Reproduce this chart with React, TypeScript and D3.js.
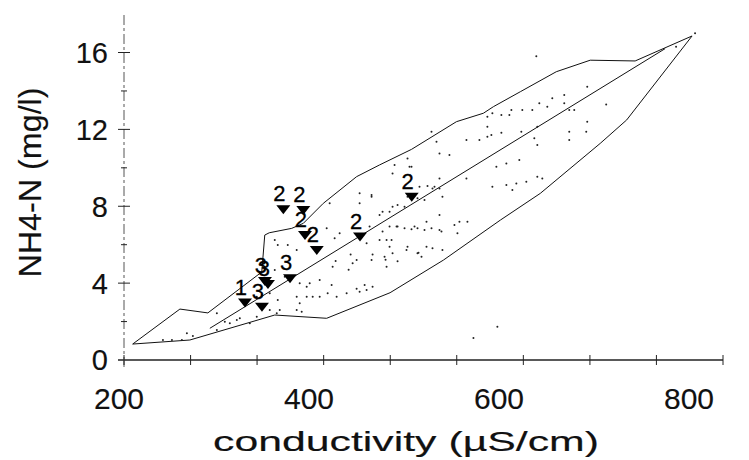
import React from 'react';
import * as d3 from 'd3';

// envelope of the measurements (conductivity µS/cm, NH4-N mg/l)
const upperEnvelope: [number, number][] = [
  [208.7, 0.83], [256, 2.65], [284, 2.45], [338, 4.58], [341, 6.5], [345.5, 6.62],
  [368, 6.85], [379.6, 7.11], [399.6, 8.15], [433, 9.54], [456, 10.15], [488, 10.96],
  [533, 12.4], [560, 12.84], [570, 13.18], [597, 13.96], [633, 15.0], [667, 15.6],
  [712, 15.56], [769, 16.86],
];

const lowerEnvelope: [number, number][] = [
  [208.7, 0.83], [266, 1.04], [351, 2.34], [403, 2.17], [466.5, 3.5], [520, 5.2],
  [577, 7.28], [617, 8.67], [677, 11.27], [703.5, 12.49], [769, 16.86],
];

const regressionLine: [number, number][] = [[286, 1.65], [742, 16.2]];

// labelled samples (filled triangles)
const markerX = [359.6, 379.6, 381.3, 393.1, 436.4, 488.2, 341.2, 344.2, 366.3, 321.2, 338.2];
const markerY = [7.84, 7.8, 6.5, 5.72, 6.42, 8.5, 4.11, 3.95, 4.25, 2.99, 2.77];
const markerLabels = ['2', '2', '2', '2', '2', '2', '3', '3', '3', '1', '3'];

// small dots of the data cloud
const scatterPoints: [number, number][] = [
  [508, 11.88], [513, 11.36], [484, 10.49], [516, 10.75], [526, 10.67], [543, 11.45],
  [556, 11.45], [564, 11.62], [568, 11.71], [578, 11.83], [564, 12.14], [564, 12.66],
  [569, 12.84], [578, 12.75], [586, 12.75], [588, 13.01], [599, 13.01], [609, 13.01],
  [616, 13.36], [624, 13.18], [629, 13.62], [641, 13.79], [641, 13.36], [646, 13.01],
  [651, 13.01], [646, 11.88], [646, 11.45], [663, 11.88], [664, 12.4], [664, 14.22],
  [614, 12.14], [611, 11.54], [614, 11.19], [598, 11.88], [573, 10.06], [583, 10.23],
  [596, 10.41], [569, 9.02], [583, 9.11], [593, 9.19], [603, 9.28], [614, 9.54],
  [619, 9.45], [543, 9.45], [516, 8.93], [519, 8.5], [501, 8.32], [504, 9.05],
  [496, 9.02], [511, 9.02], [516, 7.54], [456, 7.54], [466, 7.72], [474, 8.06],
  [448, 8.5], [436, 8.67], [471, 10.15], [486, 10.06], [484, 8.5], [406, 8.15],
  [469, 9.71], [516, 9.45], [509, 8.93], [589, 8.85], [459, 7.72], [503, 7.2],
  [536, 7.2], [544, 7.2], [531, 7.02], [473, 6.94], [481, 6.85], [488, 6.8],
  [494, 6.85], [501, 6.76], [508, 6.85], [518, 6.68], [534, 6.59], [463, 6.24],
  [468, 6.24], [484, 5.89], [503, 5.89], [509, 5.81], [519, 5.72], [494, 5.55],
  [498, 5.37], [516, 6.76], [373, 3.29], [383, 3.29], [389, 3.29], [396, 3.29],
  [404, 3.47], [413, 3.29], [423, 3.47], [436, 3.55], [443, 3.64], [441, 3.9],
  [449, 3.81], [376, 3.99], [396, 4.16], [408, 3.9], [409, 4.85], [429, 5.03],
  [433, 5.2], [448, 5.2], [461, 5.37], [469, 5.55], [483, 5.72], [466, 5.89],
  [443, 6.07], [456, 6.24], [354, 5.98], [364, 5.98], [373, 5.72], [351, 6.24],
  [351, 4.68], [361, 4.33], [403, 6.85], [411, 6.33], [416, 6.59], [446, 6.94],
  [459, 6.68], [466, 6.94], [469, 7.98], [474, 6.94], [491, 6.94], [481, 7.98],
  [494, 8.41], [448, 8.58], [436, 8.15], [488, 10.06], [463, 4.85], [346, 2.6],
  [353, 2.43], [338, 3.38], [333, 2.25], [316, 2.17], [326, 1.91], [306, 1.91],
  [239, 1.04], [248, 1.04], [258, 1.04], [263, 1.39], [269, 1.25], [301, 1.99],
  [313, 2.08], [293, 2.43], [356, 2.6], [293, 1.56], [333, 3.29], [346, 3.47],
  [354, 3.12], [376, 2.95], [383, 3.81], [386, 3.99], [373, 2.6], [378, 2.51],
  [412, 5.15], [425, 4.69], [433, 3.71], [462, 5.22], [474, 5.14], [495, 5.58],
  [427, 5.49], [449, 5.49], [550, 1.14], [574, 1.73], [613, 15.8], [772, 17.0],
  [753, 16.3], [683, 13.3],
];

const xTickLabels = [200, 400, 600, 800];
const yTickLabels = [0, 4, 8, 12, 16];
const xMinorTicks = [200, 266.7, 333.3, 400, 466.7, 533.3, 600, 666.7, 733.3, 800];
const yMinorTicks = [2, 4, 6, 8, 10, 12, 14, 16];

const W = 749, H = 460;
const FONT = '"Liberation Sans", Arial, Helvetica, sans-serif';

export default function App() {
  const x = d3.scaleLinear().domain([200, 800]).range([124, 723]);
  const y = d3.scaleLinear().domain([0, 16]).range([360, 52.5]);
  // the printed tick numbers sit a little left of their ticks, more so to the right
  const xLabel = d3.scaleLinear().domain([200, 800]).range([119, 689]);

  const line = d3.line<[number, number]>().x(d => x(d[0])).y(d => y(d[1]));

  const tri = (cx: number, cy: number) =>
    `M${cx - 7},${cy - 4}L${cx + 7},${cy - 4}L${cx},${cy + 5}Z`;

  const textStyle = { fontFamily: FONT, fill: '#111', stroke: '#111', strokeWidth: 0.15 };

  return (
    <svg width={W} height={H} viewBox={`0 0 ${W} ${H}`}
      style={{ position: 'absolute', left: 0, top: 0, background: '#fff' }}>
      {/* axes */}
      <line x1={118} x2={x(800)} y1={y(0)} y2={y(0)} stroke="#222" strokeWidth={1.3} />
      <line x1={x(200)} x2={x(200)} y1={367} y2={15} stroke="#555" strokeWidth={1}
        strokeDasharray="10 3 3 3" />
      {xMinorTicks.map((t, i) => (
        <line key={'xt' + i} x1={x(t)} x2={x(t)} y1={y(0) - 5} y2={y(0) + 5}
          stroke="#222" strokeWidth={1} />
      ))}
      {yMinorTicks.map((t, i) => {
        const major = t % 4 === 0;
        return (
          <line key={'yt' + i} x1={x(200) - (major ? 6 : 3)} x2={x(200) + (major ? 6 : 3)}
            y1={y(t)} y2={y(t)} stroke="#222" strokeWidth={1} />
        );
      })}
      {xTickLabels.map(t => (
        <text key={'xl' + t} x={xLabel(t)} y={409} textAnchor="middle" fontSize={30}
          style={textStyle}>{t}</text>
      ))}
      {yTickLabels.map(t => (
        <text key={'yl' + t} x={108} y={y(t)} dy="0.36em" textAnchor="end" fontSize={29}
          style={textStyle}>{t}</text>
      ))}
      <text x={406} y={451} textAnchor="middle" fontSize={28} textLength={386}
        lengthAdjust="spacingAndGlyphs" style={textStyle}>
        conductivity (µS/cm)
      </text>
      <text transform="translate(41,182.5) rotate(-90)" textAnchor="middle" fontSize={31}
        textLength={190} lengthAdjust="spacingAndGlyphs" style={textStyle}>NH4-N (mg/l)</text>

      {/* envelope and fitted line */}
      <path d={line(upperEnvelope) ?? ''} fill="none" stroke="#111" strokeWidth={1} />
      <path d={line(lowerEnvelope) ?? ''} fill="none" stroke="#111" strokeWidth={1} />
      <path d={line(regressionLine) ?? ''} fill="none" stroke="#111" strokeWidth={1} />

      {/* cloud */}
      {scatterPoints.map((d, i) => (
        <circle key={'p' + i} cx={x(d[0])} cy={y(d[1])} r={1} fill="#222" />
      ))}

      {/* labelled markers */}
      {markerX.map((mx, i) => (
        <g key={'m' + i}>
          <path d={tri(x(mx), y(markerY[i]))} fill="#000" />
          <text x={x(mx) - 4} y={y(markerY[i]) - 8} textAnchor="middle" fontSize={22}
            style={{ ...textStyle, fill: '#000', stroke: '#000', strokeWidth: 0.3 }}>
            {markerLabels[i]}
          </text>
        </g>
      ))}
    </svg>
  );
}
